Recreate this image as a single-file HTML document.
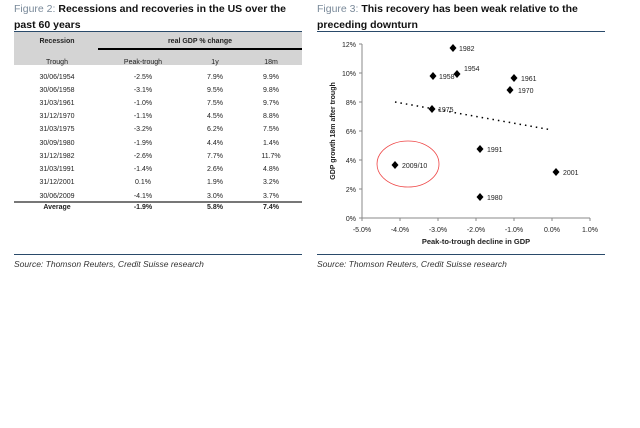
<html><head><style>
body{margin:0;width:640px;height:428px;background:#fff;font-family:"Liberation Sans",sans-serif;position:relative;overflow:hidden}
.a{position:absolute;white-space:nowrap}
.t{font-size:10.5px;font-weight:bold;color:#111}
.t span{color:#7a8a9a;font-weight:normal}
.c{font-size:7px;color:#222;transform:translateX(-50%)}
.src{font-size:8.5px;font-style:italic;color:#333}
</style></head><body>
<div class="a t" style="left:14px;top:3px">
<span>Figure 2:</span> Recessions and recoveries in the US over the</div>
<div class="a t" style="left:14px;top:19px">past 60 years</div>
<div class="a" style="left:14px;top:31px;width:288px;height:1px;background:#2a4a6a"></div>
<div class="a" style="left:14px;top:32px;width:288px;height:33px;background:#d4d4d4"></div>
<div class="a" style="left:98px;top:48px;width:204px;height:1.5px;background:#000"></div>
<div class="a c" style="left:57px;top:38px;font-weight:bold">Recession</div>
<div class="a c" style="left:200px;top:38px;font-weight:bold">real GDP % change</div>
<div class="a c" style="left:57px;top:59px">Trough</div>
<div class="a c" style="left:143px;top:59px">Peak-trough</div>
<div class="a c" style="left:215px;top:59px">1y</div>
<div class="a c" style="left:271px;top:59px">18m</div>
<div id="rows"></div>
<div class="a" style="left:14px;top:201px;width:288px;height:1.5px;background:#777"></div>
<div class="a c" style="left:57px;top:204px;font-weight:bold">Average</div>
<div class="a c" style="left:143px;top:204px;font-weight:bold">-1.9%</div>
<div class="a c" style="left:215px;top:204px;font-weight:bold">5.8%</div>
<div class="a c" style="left:271px;top:204px;font-weight:bold">7.4%</div>
<div class="a" style="left:14px;top:254px;width:288px;height:1px;background:#2a4a6a"></div>
<div class="a src" style="left:14px;top:259px">Source: Thomson Reuters, Credit Suisse research</div>

<div class="a t" style="left:317px;top:3px"><span>Figure 3:</span> This recovery has been weak relative to the</div>
<div class="a t" style="left:317px;top:19px">preceding downturn</div>
<div class="a" style="left:317px;top:31px;width:288px;height:1px;background:#2a4a6a"></div>
<div class="a" style="left:317px;top:254px;width:288px;height:1px;background:#2a4a6a"></div>
<div class="a src" style="left:317px;top:259px">Source: Thomson Reuters, Credit Suisse research</div>

<svg class="a" style="left:0;top:0" width="640" height="428" font-family="Liberation Sans, sans-serif">
<g stroke="#888" stroke-width="1">
<line x1="362" y1="44" x2="362" y2="218"/><line x1="362" y1="218" x2="590" y2="218"/>
<line x1="359" y1="44" x2="362" y2="44"/><line x1="359" y1="73" x2="362" y2="73"/><line x1="359" y1="102" x2="362" y2="102"/><line x1="359" y1="131" x2="362" y2="131"/><line x1="359" y1="160" x2="362" y2="160"/><line x1="359" y1="189" x2="362" y2="189"/><line x1="359" y1="218" x2="362" y2="218"/>
<line x1="362" y1="218" x2="362" y2="221"/><line x1="400" y1="218" x2="400" y2="221"/><line x1="438" y1="218" x2="438" y2="221"/><line x1="476" y1="218" x2="476" y2="221"/><line x1="514" y1="218" x2="514" y2="221"/><line x1="552" y1="218" x2="552" y2="221"/><line x1="590" y1="218" x2="590" y2="221"/>
</g>
<g font-size="7" fill="#222" text-anchor="end">
<text x="356" y="47">12%</text><text x="356" y="76">10%</text><text x="356" y="105">8%</text><text x="356" y="134">6%</text><text x="356" y="163">4%</text><text x="356" y="192">2%</text><text x="356" y="221">0%</text>
</g>
<g font-size="7" fill="#222" text-anchor="middle">
<text x="362" y="232">-5.0%</text><text x="400" y="232">-4.0%</text><text x="438" y="232">-3.0%</text><text x="476" y="232">-2.0%</text><text x="514" y="232">-1.0%</text><text x="552" y="232">0.0%</text><text x="590" y="232">1.0%</text>
<text x="476" y="244" font-weight="bold" font-size="7.5">Peak-to-trough decline in GDP</text>
<text transform="translate(335,131) rotate(-90)" font-weight="bold" font-size="7">GDP growth 18m after trough</text>
</g>
<line x1="395" y1="102" x2="552" y2="130" stroke="#000" stroke-width="1.5" stroke-dasharray="1.5,4"/>
<ellipse cx="408" cy="164" rx="31" ry="23" fill="none" stroke="#e44" stroke-width="0.8"/>
<g fill="#000">
<path d="M453 44l3.5 4-3.5 4-3.5-4z"/><path d="M457 70l3.5 4-3.5 4-3.5-4z"/><path d="M433 72l3.5 4-3.5 4-3.5-4z"/><path d="M514 74l3.5 4-3.5 4-3.5-4z"/><path d="M510 86l3.5 4-3.5 4-3.5-4z"/><path d="M432 105l3.5 4-3.5 4-3.5-4z"/><path d="M480 145l3.5 4-3.5 4-3.5-4z"/><path d="M395 161l3.5 4-3.5 4-3.5-4z"/><path d="M556 168l3.5 4-3.5 4-3.5-4z"/><path d="M480 193l3.5 4-3.5 4-3.5-4z"/>
</g>
<g font-size="7" fill="#222">
<text x="459" y="51">1982</text><text x="464" y="71">1954</text><text x="439" y="79">1958</text><text x="521" y="81">1961</text><text x="518" y="93">1970</text><text x="438" y="112">1975</text><text x="487" y="152">1991</text><text x="402" y="168">2009/10</text><text x="563" y="175">2001</text><text x="487" y="200">1980</text>
</g>
<g font-size="7" fill="#222" text-anchor="middle">
<text x="57" y="79">30/06/1954</text><text x="143" y="79">-2.5%</text><text x="215" y="79">7.9%</text><text x="271" y="79">9.9%</text>
<text x="57" y="92">30/06/1958</text><text x="143" y="92">-3.1%</text><text x="215" y="92">9.5%</text><text x="271" y="92">9.8%</text>
<text x="57" y="105">31/03/1961</text><text x="143" y="105">-1.0%</text><text x="215" y="105">7.5%</text><text x="271" y="105">9.7%</text>
<text x="57" y="118">31/12/1970</text><text x="143" y="118">-1.1%</text><text x="215" y="118">4.5%</text><text x="271" y="118">8.8%</text>
<text x="57" y="131">31/03/1975</text><text x="143" y="131">-3.2%</text><text x="215" y="131">6.2%</text><text x="271" y="131">7.5%</text>
<text x="57" y="145">30/09/1980</text><text x="143" y="145">-1.9%</text><text x="215" y="145">4.4%</text><text x="271" y="145">1.4%</text>
<text x="57" y="158">31/12/1982</text><text x="143" y="158">-2.6%</text><text x="215" y="158">7.7%</text><text x="271" y="158">11.7%</text>
<text x="57" y="171">31/03/1991</text><text x="143" y="171">-1.4%</text><text x="215" y="171">2.6%</text><text x="271" y="171">4.8%</text>
<text x="57" y="184">31/12/2001</text><text x="143" y="184">0.1%</text><text x="215" y="184">1.9%</text><text x="271" y="184">3.2%</text>
<text x="57" y="198">30/06/2009</text><text x="143" y="198">-4.1%</text><text x="215" y="198">3.0%</text><text x="271" y="198">3.7%</text>
</g>
</svg>
</body></html>
